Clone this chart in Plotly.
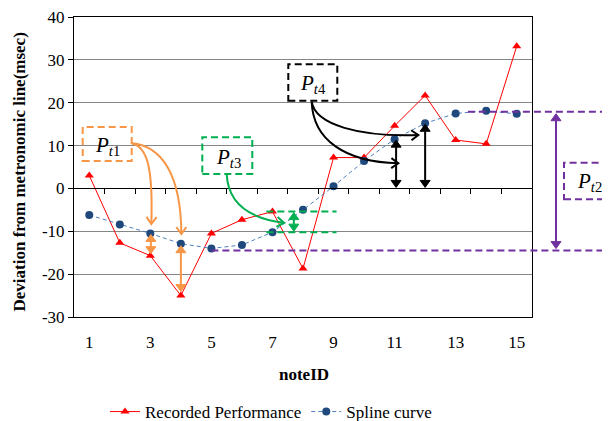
import plotly.graph_objects as go

# ---------------- data ----------------
note_ids = list(range(1, 16))
recorded = [3.0, -12.7, -15.7, -25.0, -10.5, -7.3, -5.4, -18.7, 7.2, 7.2, 14.6, 21.7, 11.3, 10.4, 33.2]
spline = [-6.2, -8.4, -10.5, -12.9, -14.0, -13.2, -10.2, -5.0, 0.5, 6.4, 11.5, 15.2, 17.5, 18.1, 17.4]
x_tick_vals = [1, 3, 5, 7, 9, 11, 13, 15]
y_tick_vals = [-30, -20, -10, 0, 10, 20, 30, 40]
y_tick_text = ["-30", "-20", "-10", "0", "10", "20", "30", "40"]
boundary_ticks = [n + 0.5 for n in note_ids[:-1]]

# ---------------- geometry helpers ----------------
# window coordinates (page body has an 8px margin)
OFF = 8
WIN_W, WIN_H = 610, 421
PL, PR, PT, PB = 74, 532, 17, 317
FIG_W, FIG_H = WIN_W - OFF, WIN_H - OFF
ML, MT = PL - OFF, PT - OFF
MR, MB = FIG_W - (PR - OFF), FIG_H - (PB - OFF)
X0, X1 = 0.5, 15.5
Y0, Y1 = -30, 40

def dx(x):
    return PL + (x - X0) / (X1 - X0) * (PR - PL)

def dy(y):
    return PT + (Y1 - y) / (Y1 - Y0) * (PB - PT)

def pp(px, py):
    return ((px - PL) / (PR - PL), (PB - py) / (PB - PT))

def fmt(px, py):
    a, b = pp(px, py)
    return f"{a:.5f},{b:.5f}"

shapes = []
annos = []
FONT = "Liberation Serif"

def dashed_rect(x0, y0, x1, y1, color):
    a0, b0 = pp(x0, y1)
    a1, b1 = pp(x1, y0)
    shapes.append(dict(type="rect", xref="paper", yref="paper", x0=a0, y0=b0, x1=a1, y1=b1,
                       line=dict(color=color, width=2, dash="7px,4px"), layer="above"))

def dashed_hline(x0, x1, py, color):
    a0, b = pp(x0, py)
    a1, _ = pp(x1, py)
    shapes.append(dict(type="line", xref="paper", yref="paper", x0=a0, y0=b, x1=a1, y1=b,
                       line=dict(color=color, width=2, dash="7px,4px"), layer="above"))

def unit(vx, vy):
    n = (vx * vx + vy * vy) ** 0.5
    return vx / n, vy / n

def chevron(tip, d, color, L=7, Wd=5, width=2):
    ux, uy = unit(*d)
    nx, ny = -uy, ux
    tx, ty = tip
    a = (tx - L * ux + Wd * nx, ty - L * uy + Wd * ny)
    b = (tx - L * ux - Wd * nx, ty - L * uy - Wd * ny)
    path = f"M {fmt(*a)} L {fmt(tx, ty)} L {fmt(*b)}"
    shapes.append(dict(type="path", xref="paper", yref="paper", path=path,
                       line=dict(color=color, width=width), layer="above"))

def tri(tip, d, color, L=7, Wd=5):
    ux, uy = unit(*d)
    nx, ny = -uy, ux
    tx, ty = tip
    a = (tx - L * ux + Wd * nx, ty - L * uy + Wd * ny)
    b = (tx - L * ux - Wd * nx, ty - L * uy - Wd * ny)
    path = f"M {fmt(*a)} L {fmt(tx, ty)} L {fmt(*b)} Z"
    shapes.append(dict(type="path", xref="paper", yref="paper", path=path,
                       fillcolor=color, line=dict(color=color, width=1), layer="above"))

def curve(p0, p1, p2, p3, color, width=2):
    path = f"M {fmt(*p0)} C {fmt(*p1)} {fmt(*p2)} {fmt(*p3)}"
    shapes.append(dict(type="path", xref="paper", yref="paper", path=path,
                       line=dict(color=color, width=width), layer="above"))
    chevron(p3, (p3[0] - p2[0], p3[1] - p2[1]), color)

def double_arrow(px, py_top, py_bot, color, width=2, L=7, Wd=5):
    a, b1 = pp(px, py_top + L)
    _, b2 = pp(px, py_bot - L)
    shapes.append(dict(type="line", xref="paper", yref="paper", x0=a, y0=b1, x1=a, y1=b2,
                       line=dict(color=color, width=width), layer="above"))
    tri((px, py_top), (0, -1), color, L, Wd)
    tri((px, py_bot), (0, 1), color, L, Wd)

def label(px, py, sub):
    a, b = pp(px, py)
    annos.append(dict(xref="paper", yref="paper", x=a, y=b, xanchor="center", yanchor="middle",
                      text=f"<i>P</i><sub><i>t</i>{sub}</sub>", showarrow=False,
                      font=dict(family=FONT, size=21, color="black")))

ORANGE = "#F79646"
GREEN = "#00B050"
PURPLE = "#7030A0"
BLACK = "#000000"

# --- P_t1 (orange)
dashed_rect(82.7, 127, 131.7, 161, ORANGE)
label(107, 146, "1")
curve((131.7, 143.3), (148, 147), (153, 170), (dx(3) + 1, 224), ORANGE)
curve((131.7, 143.3), (162, 146), (181, 175), (dx(4) + 0.5, 234), ORANGE)
double_arrow(dx(3) + 0.5, dy(spline[2]) + 1, dy(recorded[2]) - 2, ORANGE)
double_arrow(dx(4), dy(spline[3]) + 2, dy(recorded[3]) - 4, ORANGE)

# --- P_t3 (green)
dashed_rect(202.3, 137.3, 252.3, 174, GREEN)
label(228, 158, "3")
curve((226.7, 174.3), (228, 200), (245, 218), (284, 222.7), GREEN)
dashed_hline(dx(6.8), dx(9.1), dy(recorded[6]), GREEN)
dashed_hline(dx(6.8), dx(9.1), dy(spline[6]), GREEN)
double_arrow(dx(7.7), dy(recorded[6]) + 1, dy(spline[6]) - 1, GREEN)

# --- P_t4 (black)
dashed_rect(288.3, 64.3, 337.3, 100.7, BLACK)
label(313, 84, "4")
curve((311.7, 101.7), (315, 125), (360, 137), (418.3, 135), BLACK)
curve((311.7, 101.7), (313, 140), (345, 162), (398.3, 163.3), BLACK)
double_arrow(dx(11) + 1.5, dy(spline[10]) + 1, dy(0) - 1, BLACK)
double_arrow(dx(12), dy(spline[11]) + 1, dy(0) - 1, BLACK)

# --- P_t2 (purple)
dashed_hline(dx(5), 640, dy(-14.5), PURPLE)
dashed_hline(dx(13.4), 640, dy(17.9), PURPLE)
double_arrow(556, dy(17.9) + 2, dy(-14.5) - 2, PURPLE)
dashed_rect(564, 162.7, 640, 199.3, PURPLE)
label(589, 182, "2")

# axis titles
annos.append(dict(xref="paper", yref="paper", x=pp(19.5, 0)[0], y=pp(0, 172)[1],
                  xanchor="center", yanchor="middle", textangle=-90, showarrow=False,
                  text="<b>Deviation from metronomic line(msec)</b>",
                  font=dict(family=FONT, size=17, color="black")))
annos.append(dict(xref="paper", yref="paper", x=pp(304, 0)[0], y=pp(0, 374)[1],
                  xanchor="center", yanchor="middle", showarrow=False,
                  text="<b>noteID</b>", font=dict(family=FONT, size=17, color="black")))

fig = go.Figure()
fig.add_trace(go.Scatter(x=note_ids, y=recorded, name="Recorded Performance", mode="lines+markers",
                         line=dict(color="#FF0000", width=1),
                         marker=dict(symbol="triangle-up", size=8, color="#FF0000")))
fig.add_trace(go.Scatter(x=note_ids, y=spline, name="Spline curve", mode="lines+markers",
                         line=dict(color="#4F81BD", width=1, dash="4px,3px"),
                         marker=dict(symbol="circle", size=8, color="#1F497D")))
fig.add_trace(go.Scatter(x=note_ids, y=spline, xaxis="x2", mode="none", showlegend=False,
                         hoverinfo="skip"))

fig.update_layout(
    width=FIG_W, height=FIG_H,
    margin=dict(l=ML, r=MR, t=MT, b=MB, pad=0, autoexpand=False),
    paper_bgcolor="white", plot_bgcolor="white",
    font=dict(family=FONT, size=17, color="black"),
    showlegend=True,
    legend=dict(orientation="h", x=pp(271, 0)[0], y=pp(0, 412)[1], xanchor="center", yanchor="middle",
                font=dict(family=FONT, size=17, color="black"), bgcolor="rgba(0,0,0,0)",
                itemwidth=30),
    xaxis=dict(range=[X0, X1], tickvals=x_tick_vals, showgrid=False, zeroline=False,
               showline=True, linecolor="black", linewidth=1, mirror=True, ticks="",
               ticklabelstandoff=10, tickfont=dict(family=FONT, size=17)),
    xaxis2=dict(range=[X0, X1], overlaying="x", anchor="free",
                position=(0 - Y0) / (Y1 - Y0), side="bottom",
                tickvals=boundary_ticks, ticks="outside", ticklen=5, tickcolor="black",
                showticklabels=False, showgrid=False, zeroline=False,
                showline=True, linecolor="black", linewidth=1),
    yaxis=dict(range=[Y0, Y1], tickvals=y_tick_vals, ticktext=y_tick_text,
               showgrid=True, gridcolor="#868686", gridwidth=1, zeroline=False,
               showline=True, linecolor="black", linewidth=1, mirror=True,
               ticks="outside", ticklen=5, tickcolor="black", ticklabeloverflow="allow",
               tickfont=dict(family=FONT, size=17)),
    shapes=shapes,
    annotations=annos,
)

fig.write_html("out.html")
